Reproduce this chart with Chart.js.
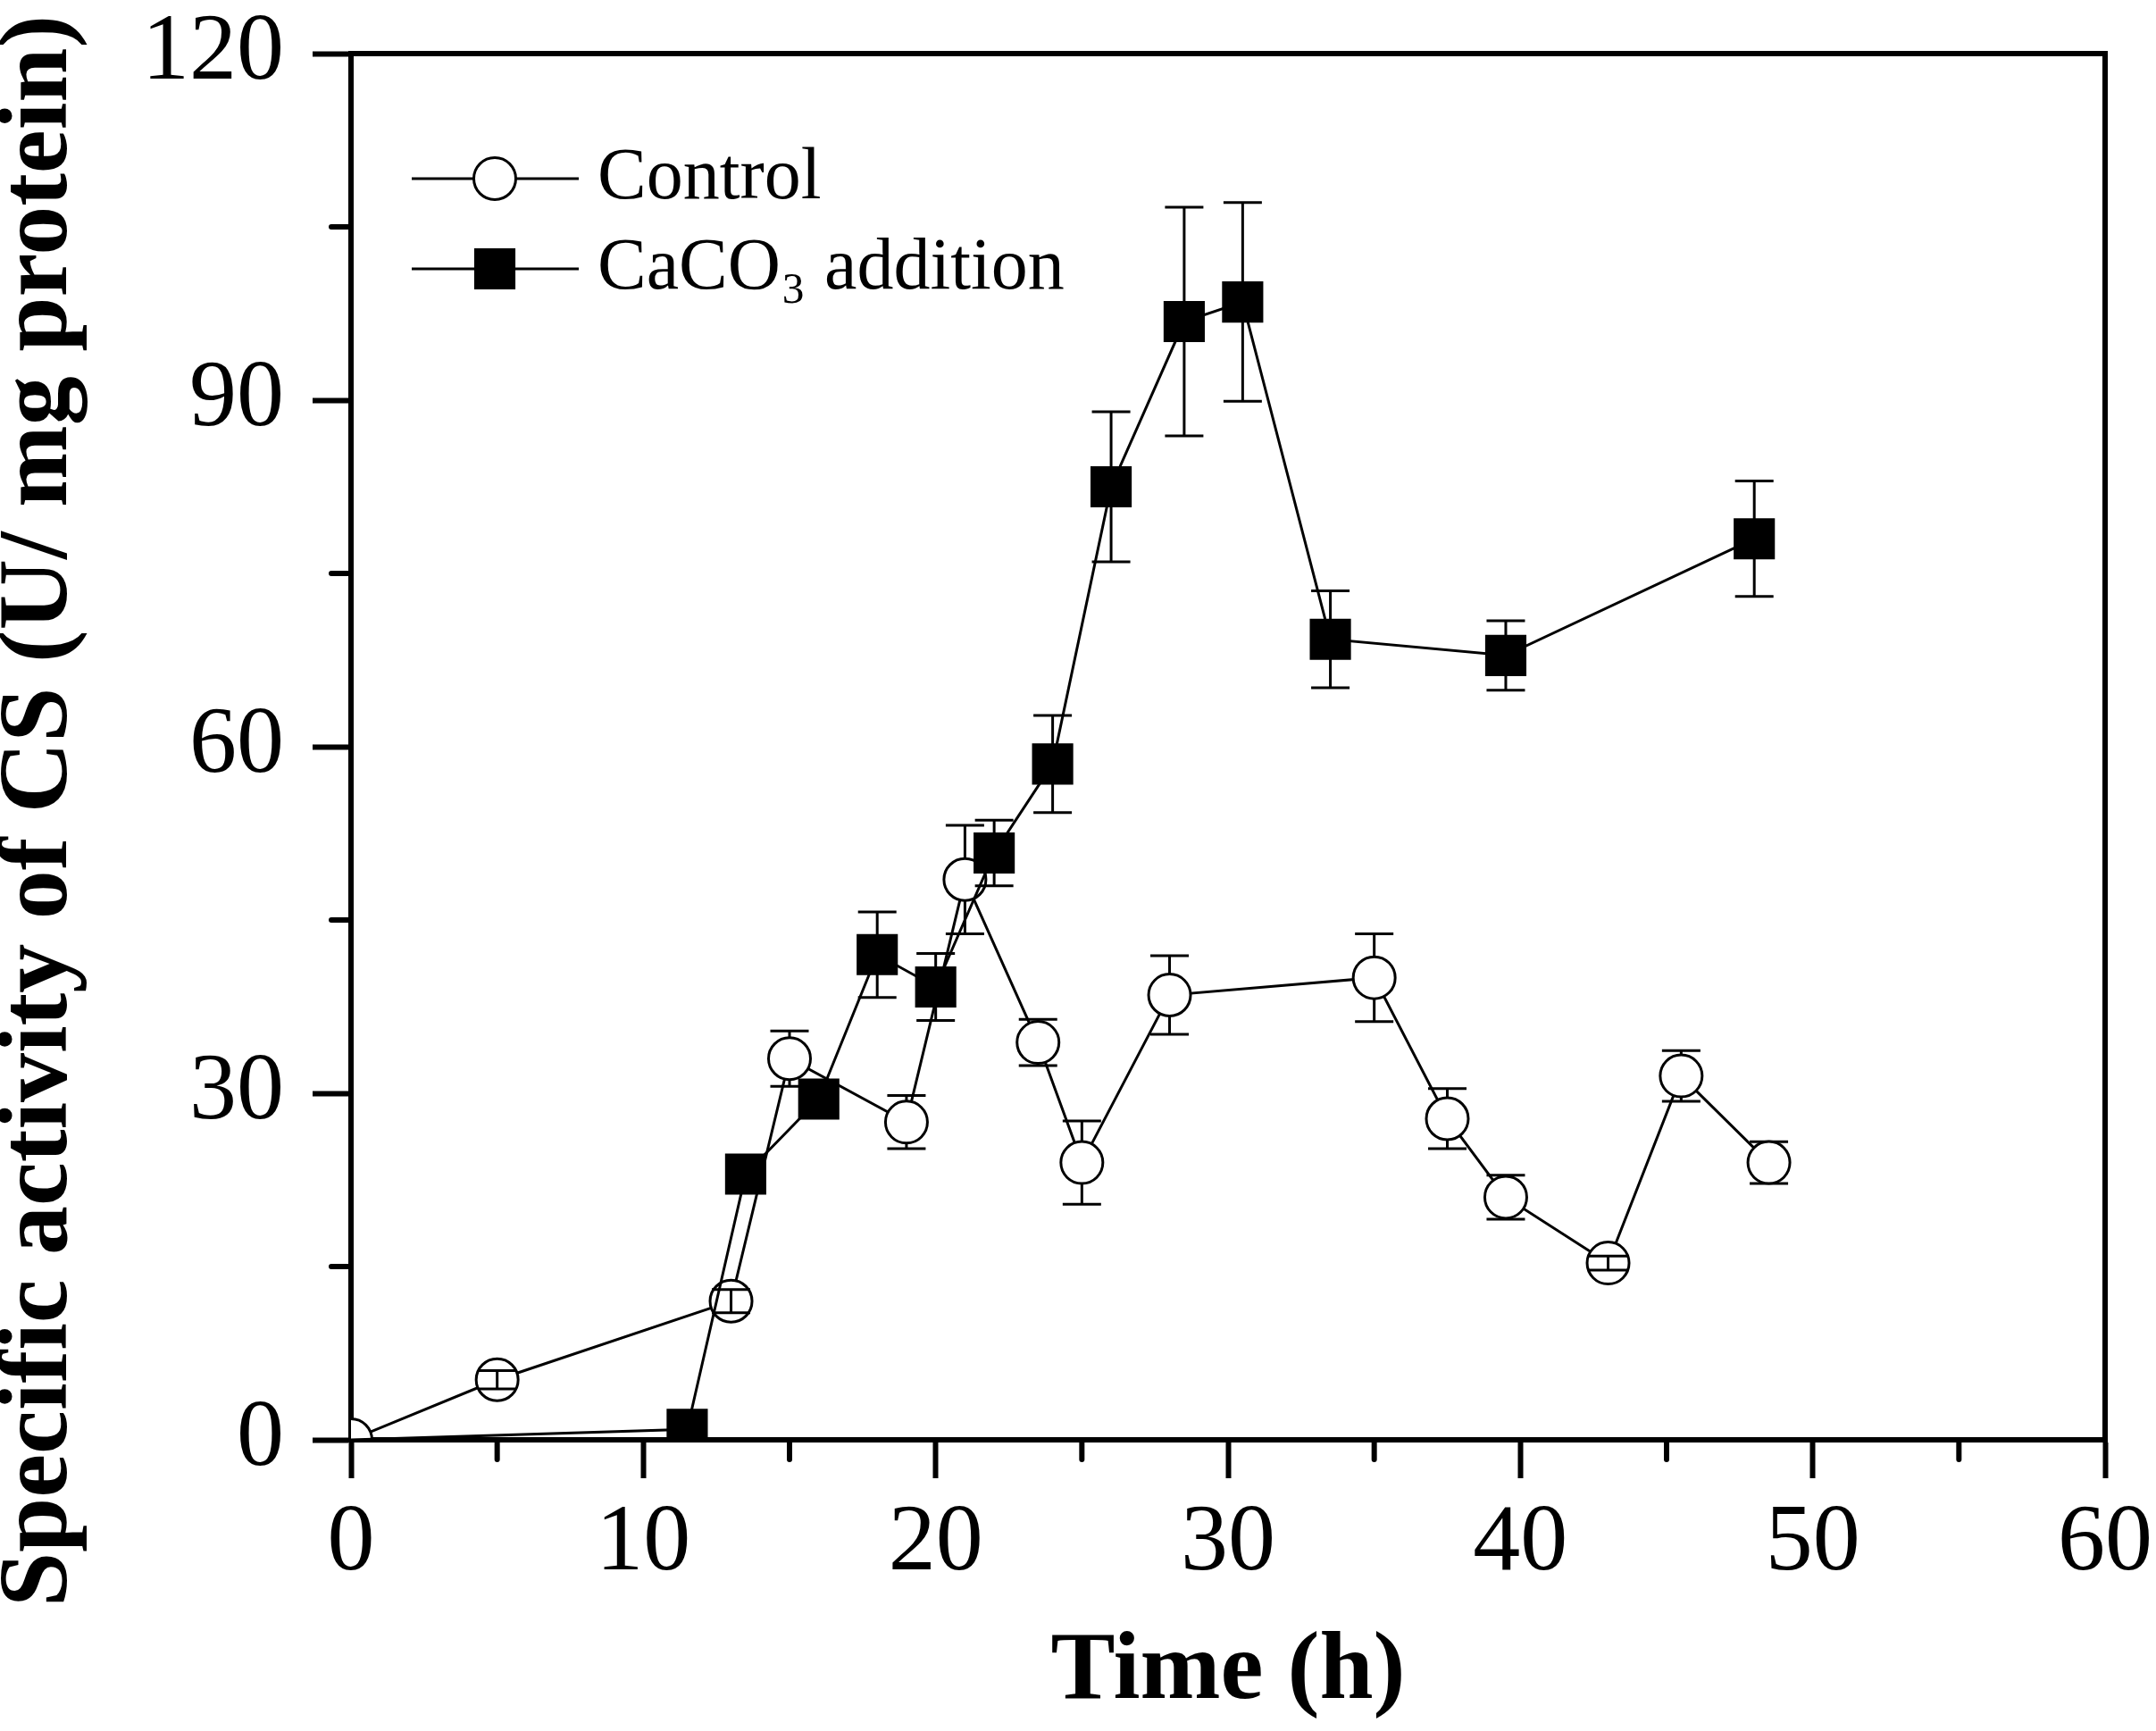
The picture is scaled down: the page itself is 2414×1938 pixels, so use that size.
<!DOCTYPE html>
<html>
<head>
<meta charset="utf-8">
<script src="https://cdn.jsdelivr.net/npm/chart.js@4.4.1/dist/chart.umd.min.js"></script>
<style>
  html, body { margin: 0; padding: 0; background: #fff; }
  #wrap { width: 2414px; height: 1938px; }
</style>
</head>
<body>
<div id="wrap"><canvas id="csChart" width="2414" height="1938"></canvas></div>
<script>
// values (time in h, activity in U/mg protein)
const controlTime = [0, 5, 13, 15, 19, 21, 23.5, 25, 28, 35, 37.5, 39.5, 43, 45.5, 48.5];
const controlCS   = [0, 5.2, 12, 33, 27.5, 48.5, 34.4, 24, 38.5, 40, 27.8, 21, 15.3, 31.5, 24];
const controlErr  = [0, 0.8, 1, 2.4, 2.3, 4.7, 2, 3.6, 3.4, 3.8, 2.6, 1.9, 0.6, 2.2, 1.8];

const caco3Time = [0, 11.5, 13.5, 16, 18, 20, 22, 24, 26, 28.5, 30.5, 33.5, 39.5, 48];
const caco3CS   = [0, 0.9, 23, 29.5, 42, 39.2, 50.8, 58.5, 82.5, 96.8, 98.5, 69.3, 67.9, 78];
const caco3Err  = [0, 0, 1, 1, 3.7, 2.9, 2.85, 4.2, 6.5, 9.9, 8.6, 4.2, 3, 5];

const xTickValues = [0, 10, 20, 30, 40, 50, 60];
const xMinorTicks = [5, 15, 25, 35, 45, 55];
const yTickValues = [0, 30, 60, 90, 120];
const yMinorTicks = [15, 45, 75, 105];

const SERIF = "'Liberation Serif', 'Times New Roman', serif";

function toPoints(xs, ys) {
  return xs.map((x, i) => ({ x: x, y: ys[i] }));
}

function drawBars(chart, index, afterMarkers) {
  const ds = chart.data.datasets[index];
  if (!ds.errors) return;
  const meta = chart.getDatasetMeta(index);
  const yScale = chart.scales.y;
  const ctx = chart.ctx;
  const cap = 21.5;
  ctx.save();
  ctx.strokeStyle = '#000';
  ctx.lineWidth = 3;
  meta.data.forEach((pt, i) => {
    const e = ds.errors[i];
    if (!e) return;
    const v = ds.data[i].y;
    const top = yScale.getPixelForValue(v + e);
    const bot = yScale.getPixelForValue(v - e);
    // bars hidden by the marker are drawn on top of it, like the original
    const inside = (bot - top) / 2 < 20;
    if (inside !== afterMarkers) return;
    ctx.beginPath();
    ctx.moveTo(pt.x, top);
    ctx.lineTo(pt.x, bot);
    ctx.moveTo(pt.x - cap, top);
    ctx.lineTo(pt.x + cap, top);
    ctx.moveTo(pt.x - cap, bot);
    ctx.lineTo(pt.x + cap, bot);
    ctx.stroke();
  });
  ctx.restore();
}

const errorBarPlugin = {
  id: 'errorBars',
  beforeDatasetDraw(chart, args) { drawBars(chart, args.index, false); },
  afterDatasetDraw(chart, args) { drawBars(chart, args.index, true); }
};

const framePlugin = {
  id: 'frame',
  afterDraw(chart) {
    const { ctx, chartArea: a, scales } = chart;
    ctx.save();
    ctx.strokeStyle = '#000';
    ctx.lineWidth = 6;
    ctx.beginPath();
    ctx.moveTo(a.left - 3, a.top);
    ctx.lineTo(a.right, a.top);
    ctx.lineTo(a.right, a.bottom + 3);
    ctx.stroke();
    // minor ticks
    ctx.lineCap = 'round';
    ctx.beginPath();
    xMinorTicks.forEach(v => {
      const px = scales.x.getPixelForValue(v);
      ctx.moveTo(px, a.bottom);
      ctx.lineTo(px, a.bottom + 22);
    });
    yMinorTicks.forEach(v => {
      const py = scales.y.getPixelForValue(v);
      ctx.moveTo(a.left, py);
      ctx.lineTo(a.left - 22, py);
    });
    ctx.stroke();

    // y axis title, centred like the original (not on the axis middle)
    ctx.fillStyle = '#000';
    ctx.font = 'bold 110px ' + SERIF;
    ctx.textAlign = 'center';
    ctx.textBaseline = 'middle';
    ctx.translate(46, 908);
    ctx.rotate(-Math.PI / 2);
    ctx.fillText('Specific activity of CS (U/ mg protein)', 0, 0);
    ctx.restore();
  }
};

const legendPlugin = {
  id: 'insideLegend',
  afterDraw(chart) {
    const { ctx, chartArea: a } = chart;
    const x0 = a.left + 68, x1 = a.left + 255, mx = a.left + 161;
    const rows = [a.top + 140, a.top + 241];
    ctx.save();
    chart.data.datasets.forEach((ds, i) => {
      const y = rows[i];
      ctx.strokeStyle = '#000';
      ctx.lineWidth = 3;
      ctx.beginPath();
      ctx.moveTo(x0, y);
      ctx.lineTo(x1, y);
      ctx.stroke();
      ctx.fillStyle = ds.pointBackgroundColor;
      ctx.beginPath();
      if (ds.pointStyle === 'circle') {
        ctx.arc(mx, y, ds.legendRadius, 0, Math.PI * 2);
      } else {
        const h = ds.legendRadius * Math.SQRT1_2;
        ctx.rect(mx - h, y - h, 2 * h, 2 * h);
      }
      ctx.fill();
      ctx.stroke();
      ctx.fillStyle = '#000';
      ctx.font = '82px ' + SERIF;
      ctx.textAlign = 'left';
      ctx.textBaseline = 'middle';
      ctx.fillText(ds.label, a.left + 276, y);
    });
    ctx.restore();
  }
};

new Chart(document.getElementById('csChart'), {
  type: 'line',
  data: {
    datasets: [
      {
        label: 'Control',
        data: toPoints(controlTime, controlCS),
        errors: controlErr,
        borderColor: '#000',
        borderWidth: 3,
        pointStyle: 'circle',
        pointRadius: 23.5,
        legendRadius: 23.5,
        pointHoverRadius: 23.5,
        pointBackgroundColor: '#fff',
        pointBorderColor: '#000',
        pointBorderWidth: 3,
        tension: 0,
        clip: 0,
        order: 2
      },
      {
        label: 'CaCO\u2083 addition',
        data: toPoints(caco3Time, caco3CS),
        errors: caco3Err,
        borderColor: '#000',
        borderWidth: 3,
        pointStyle: 'rect',
        pointRadius: ctx => (ctx.dataIndex === 0 ? 0 : 30.5),
        legendRadius: 30.5,
        pointHoverRadius: 30.5,
        pointBackgroundColor: '#000',
        pointBorderColor: '#000',
        pointBorderWidth: 3,
        tension: 0,
        clip: 0,
        order: 1
      }
    ]
  },
  options: {
    responsive: false,
    devicePixelRatio: 1,
    animation: false,
    events: [],
    layout: { padding: { top: 60, right: 57, left: 0, bottom: 0 } },
    plugins: {
      legend: { display: false },
      tooltip: { enabled: false }
    },
    scales: {
      x: {
        type: 'linear',
        position: 'bottom',
        min: 0,
        max: 60,
        z: 1,
        afterBuildTicks: axis => { axis.ticks = xTickValues.map(v => ({ value: v })); },
        afterFit: axis => { axis.height = 326; },
        grid: { drawOnChartArea: false, tickLength: 43, tickWidth: 6, tickColor: '#000' },
        border: { color: '#000', width: 6 },
        ticks: {
          color: '#000',
          padding: 3,
          maxRotation: 0,
          autoSkip: false,
          font: { family: SERIF, size: 106, lineHeight: 1.34 }
        },
        title: {
          display: true,
          text: 'Time (h)',
          color: '#000',
          padding: 0,
          font: { family: SERIF, size: 108, weight: 'bold', lineHeight: 1.2 }
        }
      },
      y: {
        type: 'linear',
        min: 0,
        max: 120,
        z: 1,
        afterBuildTicks: axis => { axis.ticks = yTickValues.map(v => ({ value: v })); },
        afterFit: axis => { axis.width = 393; },
        grid: { drawOnChartArea: false, tickLength: 43, tickWidth: 6, tickColor: '#000' },
        border: { color: '#000', width: 6 },
        ticks: {
          color: '#000',
          padding: 32,
          font: { family: SERIF, size: 106, lineHeight: 0.2 }
        }
      }
    }
  },
  plugins: [errorBarPlugin, framePlugin, legendPlugin]
});
</script>
</body>
</html>
